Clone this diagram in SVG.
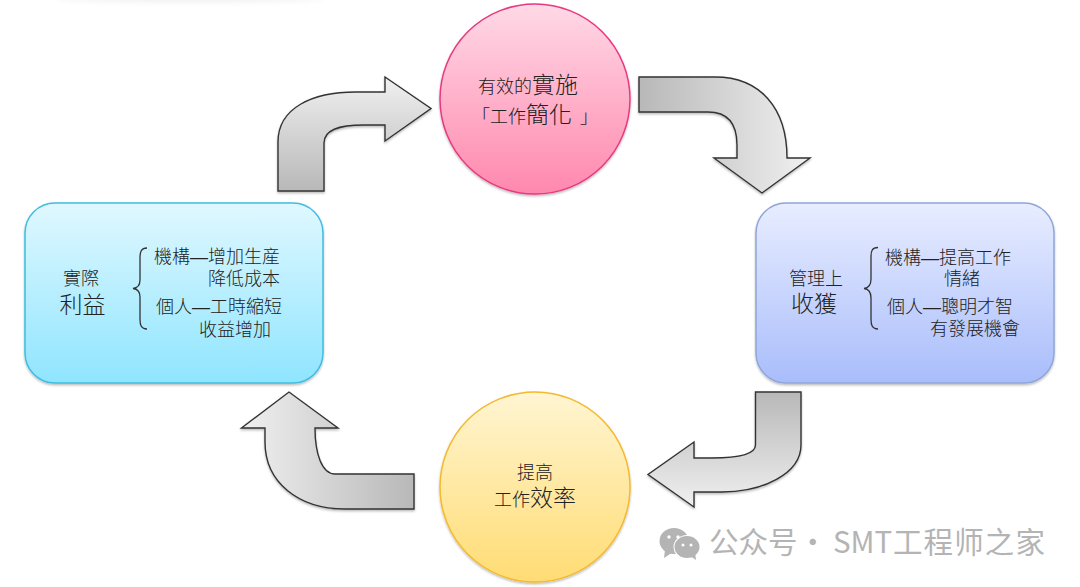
<svg xmlns="http://www.w3.org/2000/svg" width="1080" height="587" viewBox="0 0 1080 587">
  <style>
    text { font-family: "Noto Sans CJK TC", "Noto Sans", sans-serif; fill: #222; font-weight: 300; }
    .s { font-size: 18px; }
    .l { font-size: 23px; }
    .m { text-anchor: middle; }
    .d { font-family: "Liberation Sans", sans-serif; font-weight: 400; }
    .arrow { stroke: #333; stroke-width: 1.4; stroke-linejoin: miter; filter: url(#soft); }
    .brace { fill: none; stroke: #333; stroke-width: 1.3; }
    .mark { fill: #b4b4b4; }
    text.wm { font-family: "Noto Sans CJK SC", "Noto Sans", sans-serif; font-size: 29.500px; fill: #b4b4b4; font-weight: 400; }
  </style>
  <defs>
    <filter id="soft" x="-10%" y="-10%" width="120%" height="125%">
      <feDropShadow dx="0" dy="1.5" stdDeviation="1.2" flood-color="#000" flood-opacity="0.28"/>
    </filter>
    <filter id="smear" x="-10%" y="-200%" width="120%" height="500%"><feGaussianBlur stdDeviation="3"/></filter>
    <linearGradient id="gBlue" x1="0" y1="0" x2="0" y2="1"><stop offset="0" stop-color="#e0f8ff"/><stop offset="1" stop-color="#8fe5ff"/></linearGradient>
    <linearGradient id="gViolet" x1="0" y1="0" x2="0" y2="1"><stop offset="0" stop-color="#e8edff"/><stop offset="1" stop-color="#a9bdfb"/></linearGradient>
    <linearGradient id="gPink" x1="0" y1="0" x2="0" y2="1"><stop offset="0" stop-color="#ffd9e6"/><stop offset="1" stop-color="#ff88ae"/></linearGradient>
    <linearGradient id="gYellow" x1="0" y1="0" x2="0" y2="1"><stop offset="0" stop-color="#fff5d2"/><stop offset="1" stop-color="#ffdc74"/></linearGradient>
    <linearGradient id="gUp" x1="0" y1="1" x2="0" y2="0"><stop offset="0" stop-color="#b8b8b8"/><stop offset="1" stop-color="#f0f0f0"/></linearGradient>
    <linearGradient id="gRight" x1="0" y1="0" x2="1" y2="0"><stop offset="0" stop-color="#b8b8b8"/><stop offset="1" stop-color="#f0f0f0"/></linearGradient>
    <linearGradient id="gDown" x1="0" y1="0" x2="0" y2="1"><stop offset="0" stop-color="#b8b8b8"/><stop offset="1" stop-color="#f0f0f0"/></linearGradient>
    <linearGradient id="gLeft" x1="1" y1="0" x2="0" y2="0"><stop offset="0" stop-color="#b8b8b8"/><stop offset="1" stop-color="#f0f0f0"/></linearGradient>
  </defs>

  <rect width="1080" height="587" fill="#fff"/>
  <ellipse cx="190" cy="-2" rx="135" ry="4" fill="#000" opacity="0.06" filter="url(#smear)"/>

  <g id="connectors">
    <path class="arrow" fill="url(#gUp)" d="M278,191 V142 C278,108 312,92 356,92 H385 V77 L431,108.500 L385,141 V125 H364 C338,125 324,130 324,143 V191 Z"/>
    <path class="arrow" fill="url(#gRight)" d="M639,77 H715 C760,77 787,108 787,158 H810 L762,193 L714,158 H737 V145 C737,124 728,112 708,112 H639 Z"/>
    <path class="arrow" fill="url(#gDown)" d="M755.500,392 H801 V445 C801,474 762,492 722,492 H694 V507 L648,474.500 L694,442 V458 H712 C738,458 755.500,454 755.500,445 Z"/>
    <path class="arrow" fill="url(#gLeft)" d="M414,474 H335 C322,474 315,454 315,428 H338 L289,392 L241.500,428 H265 V442 C265,482 298,509 345,509 H414 Z"/>
  </g>

  <g id="node-implement">
    <circle cx="535" cy="99" r="95" fill="url(#gPink)" stroke="#e8397f" stroke-width="1.5" filter="url(#soft)"/>
    <text x="478" y="93"><tspan class="s">有效的</tspan><tspan class="l">實施</tspan></text>
    <text x="472" y="123"><tspan class="s">「工作</tspan><tspan class="l">簡化</tspan><tspan class="s" dx="8">」</tspan></text>
  </g>

  <g id="node-management">
    <rect x="756" y="203" width="298" height="180" rx="30" fill="url(#gViolet)" stroke="#8fa6d9" stroke-width="1.5" filter="url(#soft)"/>
    <text class="s m" x="816" y="285">管理上</text>
    <text class="l m" x="814" y="312">收獲</text>
    <path class="brace" d="M878,247.500 C872,247.500 871,251 871,257 V279 C871,285 869,288 864,288.500 C869,289 871,292 871,298 V319 C871,325 872,329 878,329"/>
    <text class="s" x="885" y="264">機構<tspan class="d">—</tspan>提高工作</text>
    <text class="s" x="944" y="285">情緒</text>
    <text class="s" x="887" y="313">個人<tspan class="d">—</tspan>聰明才智</text>
    <text class="s" x="930" y="335">有發展機會</text>
  </g>

  <g id="node-efficiency">
    <circle cx="535" cy="487" r="95" fill="url(#gYellow)" stroke="#f5b92e" stroke-width="1.5" filter="url(#soft)"/>
    <text class="s m" x="535" y="479">提高</text>
    <text x="494" y="506"><tspan class="s">工作</tspan><tspan class="l">效率</tspan></text>
  </g>

  <g id="node-benefit">
    <rect x="25" y="203" width="298" height="180" rx="30" fill="url(#gBlue)" stroke="#3fbde0" stroke-width="1.5" filter="url(#soft)"/>
    <text class="s m" x="81" y="285">實際</text>
    <text class="l m" x="82.500" y="313">利益</text>
    <path class="brace" d="M147,248 C141,248 140,252 140,258 V280 C140,285 138,288 133,288.500 C138,289 140,292 140,297 V319 C140,325 141,329 147,329"/>
    <text class="s" x="154" y="263">機構<tspan class="d">—</tspan>增加生産</text>
    <text class="s" x="208" y="285">降低成本</text>
    <text class="s" x="156" y="313">個人<tspan class="d">—</tspan>工時縮短</text>
    <text class="s" x="199" y="336">收益增加</text>
  </g>

  <g id="byline">
    <ellipse class="mark" cx="674" cy="541" rx="14.500" ry="13"/>
    <path class="mark" d="M665,550 L664,558 L673,552 Z"/>
    <ellipse cx="687" cy="547" rx="13.500" ry="12" fill="#fff"/>
    <ellipse class="mark" cx="687" cy="547" rx="12.500" ry="11"/>
    <path class="mark" d="M690,556 L696,560 L695,552 Z"/>
    <circle cx="669" cy="537" r="1.700" fill="#fff"/>
    <circle cx="678" cy="537" r="1.700" fill="#fff"/>
    <circle cx="683" cy="545" r="1.500" fill="#fff"/>
    <circle cx="691" cy="545" r="1.500" fill="#fff"/>
    <text class="wm" x="709" y="553">公众号</text>
    <text class="wm" x="798" y="553">·</text>
    <text class="wm" x="833" y="553">SMT</text>
    <text class="wm" x="893" y="553" textLength="152">工程师之家</text>
  </g>
</svg>
